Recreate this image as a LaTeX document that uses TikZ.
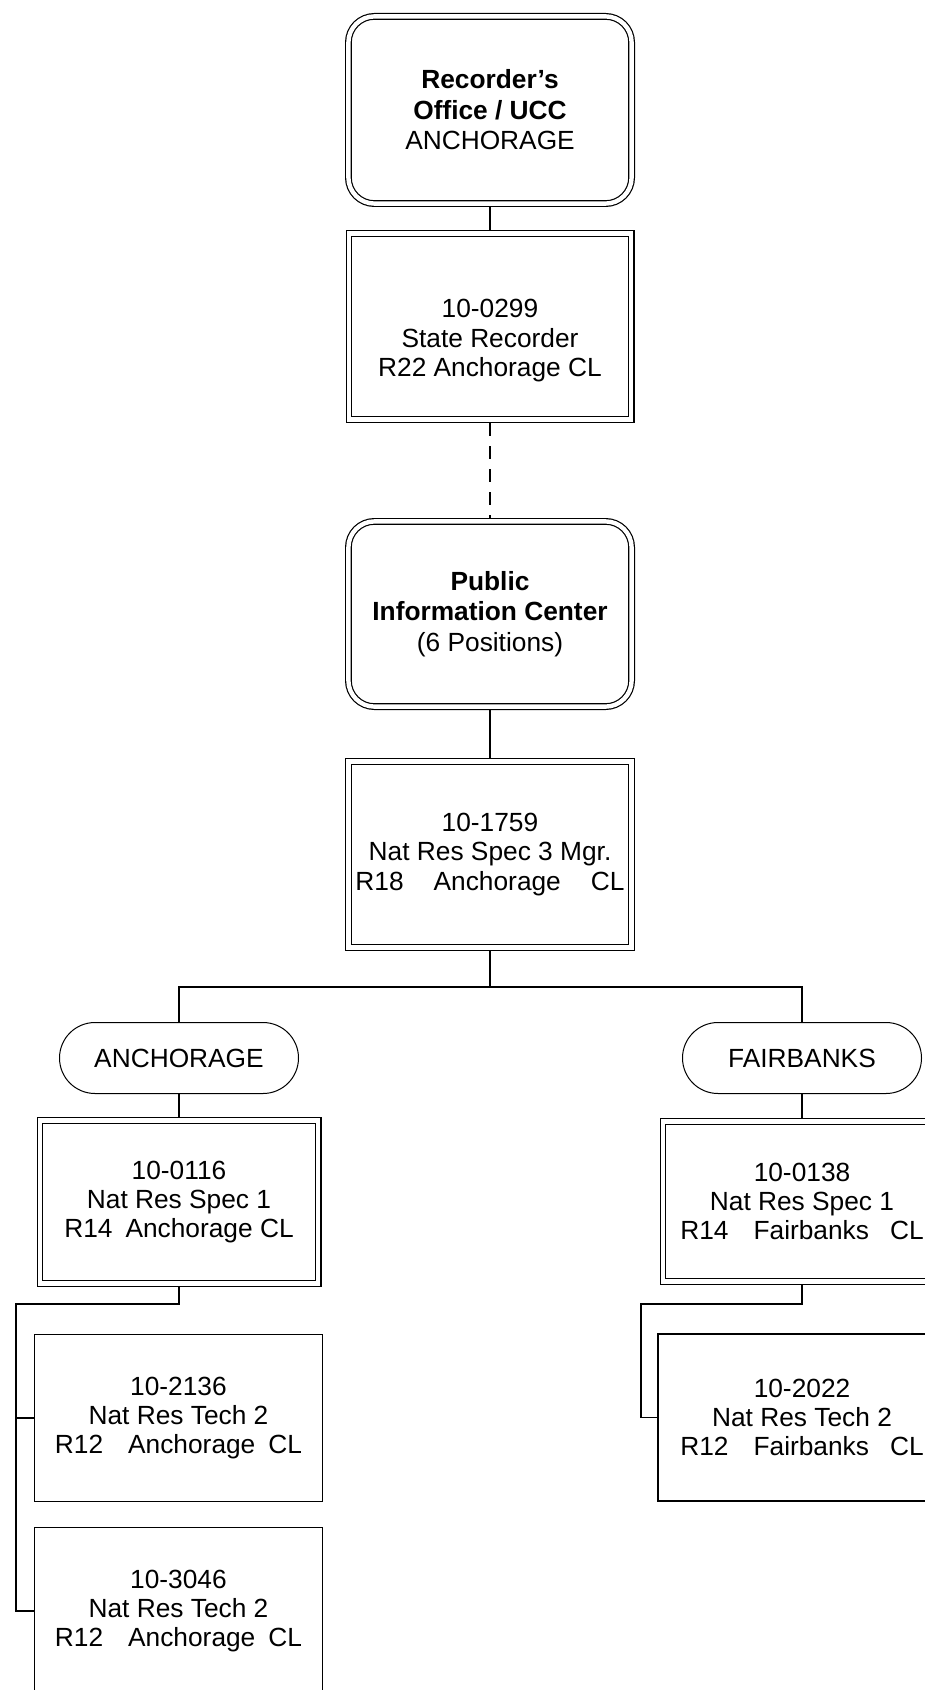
\documentclass[tikz,border=0pt]{standalone}
\usepackage{fontspec}
\setmainfont{Liberation Sans}
\usetikzlibrary{positioning}

\tikzset{
  office/.style={draw, double, line width=0.6pt, double distance=2.2pt,
    rounded corners=13pt, align=center, outer sep=1.7pt,
    font=\fontsize{13.15}{15.2}\selectfont},
  dblbox/.style={draw, double, line width=0.6pt, double distance=2.2pt,
    align=center, outer sep=1.7pt, font=\fontsize{13.15}{14.6}\selectfont},
  posbox/.style={draw, line width=0.65pt, minimum width=144pt,
    minimum height=83.5pt, align=center, font=\fontsize{13.15}{14.6}\selectfont},
  region/.style={draw, line width=0.5pt, rounded corners=17.75pt,
    minimum width=119.5pt, minimum height=35.5pt,
    font=\fontsize{13.15}{15.5}\selectfont},
  link/.style={line width=0.65pt},
}

\begin{document}
\begin{tikzpicture}[x=0.5pt, y=-0.5pt]
    \useasboundingbox (0,0) rectangle (925,1690);
    \clip (0,0) rectangle (925,1690);

    % top of the chart
    \node[office, minimum width=141.6pt, minimum height=93.6pt] (recorder) at (490,110)
        {\textbf{Recorder’s}\\ \textbf{Office / UCC}\\ ANCHORAGE};
    \node[dblbox, minimum width=141.1pt, minimum height=93.1pt] (staterec) at (490,326.5)
        {\rule{0pt}{23.4pt}10-0299\\ State Recorder\\ R22 Anchorage CL};
    \node[office, minimum width=141.6pt, minimum height=92.6pt] (pic) at (490,614)
        {\textbf{Public}\\ \textbf{Information Center}\\ (6 Positions)};
    \node[dblbox, minimum width=141.6pt, minimum height=93.1pt] (mgr) at (490,854.5)
        {10-1759\\ Nat Res Spec 3 Mgr.\\ R18\hspace{15pt}Anchorage\hspace{15pt}CL};

    % regions
    \node[region] (anc) at (179,1058) {ANCHORAGE};
    \node[region] (fbk) at (802,1058) {FAIRBANKS};

    \node[dblbox, minimum width=139.1pt, minimum height=81.6pt] (spec116) at (179,1202)
        {10-0116\\ Nat Res Spec 1\\ R14\hspace{6.5pt}Anchorage CL};
    \node[dblbox, minimum width=139.1pt, minimum height=80.1pt] (spec138) at (802,1201.5)
        {10-0138\\ Nat Res Spec 1\\ R14\hspace{12.5pt}Fairbanks\hspace{10.5pt}CL};

    \node[posbox] (tech2136) at (178.5,1418)
        {10-2136\\ Nat Res Tech 2\\ R12\hspace{12.5pt}Anchorage\hspace{6.5pt}CL};
    \node[posbox] (tech3046) at (178.5,1611)
        {10-3046\\ Nat Res Tech 2\\ R12\hspace{12.5pt}Anchorage\hspace{6.5pt}CL};
    \node[posbox] (tech2022) at (802,1417.5)
        {10-2022\\ Nat Res Tech 2\\ R12\hspace{12.5pt}Fairbanks\hspace{10.5pt}CL};

    % connectors
    \coordinate (bus) at (490,987);
    \coordinate (lbus) at (16,1304);
    \coordinate (rbus) at (641,1304);

    \draw[link] (recorder) -- (staterec);
    \draw[link, dash pattern=on 6.5pt off 5pt] (staterec) -- (pic);
    \draw[link] (pic) -- (mgr);
    \draw[link] (mgr) -- (bus);
    \draw[link] (anc.north) -- (anc.north |- bus) -- (fbk.north |- bus) -- (fbk.north);
    \draw[link] (anc) -- (spec116);
    \draw[link] (fbk) -- (spec138);

    \draw[link] (spec116.south) |- (lbus) |- (tech3046.west);
    \draw[link] (lbus |- tech2136.west) -- (tech2136.west);
    \draw[link] (spec138.south) |- (rbus) |- (tech2022.west);
\end{tikzpicture}
\end{document}
